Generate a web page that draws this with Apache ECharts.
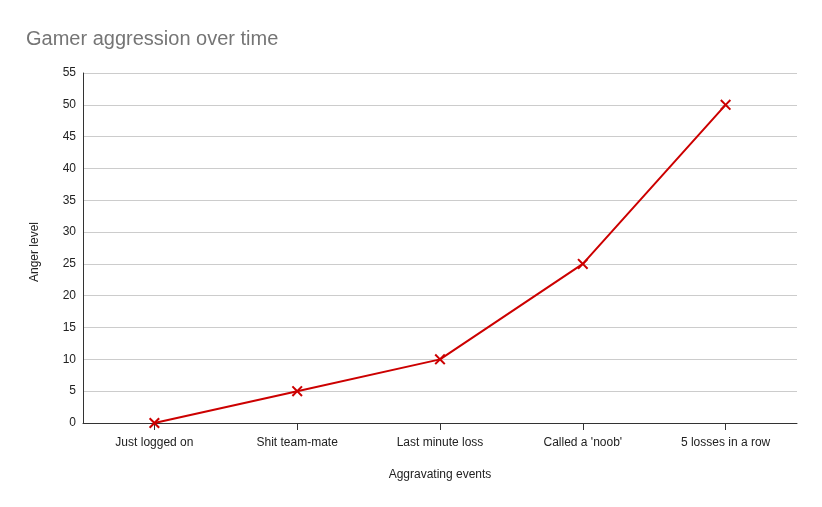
<!DOCTYPE html>
<html>
<head>
<meta charset="utf-8">
<script src="https://cdn.jsdelivr.net/npm/echarts@6/dist/echarts.min.js"></script>
<style>
  html, body { margin: 0; padding: 0; background: #fff; }
  #chart { width: 822px; height: 507px; }
</style>
</head>
<body>
<div id="chart"></div>
<script>
const categories = ['Just logged on', 'Shit team-mate', 'Last minute loss', "Called a 'noob'", '5 losses in a row']
const angerLevel = [0, 5, 10, 25, 50]

// thin filled X-shaped marker
const crossSymbol = 'path://M1.3,0 L5,3.7 L8.7,0 L10,1.3 L6.3,5 L10,8.7 L8.7,10 L5,6.3 L1.3,10 L0,8.7 L3.7,5 L0,1.3 Z'

const chart = echarts.init(document.getElementById('chart'))
chart.setOption({
  backgroundColor: '#fff',
  textStyle: { fontFamily: 'Liberation Sans, Arial, sans-serif' },
  title: {
    text: 'Gamer aggression over time',
    left: 21,
    top: 24,
    textStyle: { color: '#757575', fontSize: 20, fontWeight: 'normal' }
  },
  grid: { left: 83, right: 25, top: 73, bottom: 84 },
  xAxis: {
    type: 'category',
    data: categories,
    name: 'Aggravating events',
    nameLocation: 'middle',
    nameGap: 46,
    nameTextStyle: { color: '#222', fontSize: 12 },
    axisLine: { lineStyle: { color: '#333', width: 1 } },
    axisTick: { show: true, alignWithLabel: true, length: 7, lineStyle: { color: '#333', width: 1 } },
    axisLabel: { color: '#222', fontSize: 12, margin: 14 }
  },
  yAxis: {
    type: 'value',
    min: 0,
    max: 55,
    interval: 5,
    name: 'Anger level',
    nameLocation: 'middle',
    nameGap: 42,
    nameTextStyle: { color: '#222', fontSize: 12, padding: [0, 8, 0, 0] },
    axisLine: { show: true, lineStyle: { color: '#333', width: 1 } },
    axisTick: { show: false },
    axisLabel: { color: '#222', fontSize: 12, margin: 7 },
    splitLine: { lineStyle: { color: '#ccc' } }
  },
  series: [
    {
      name: 'Anger level',
      type: 'line',
      data: angerLevel,
      symbol: crossSymbol,
      symbolSize: 11,
      lineStyle: { color: '#cc0000', width: 2 },
      itemStyle: { color: '#cc0000' },
      animation: false
    }
  ]
})
</script>
</body>
</html>
